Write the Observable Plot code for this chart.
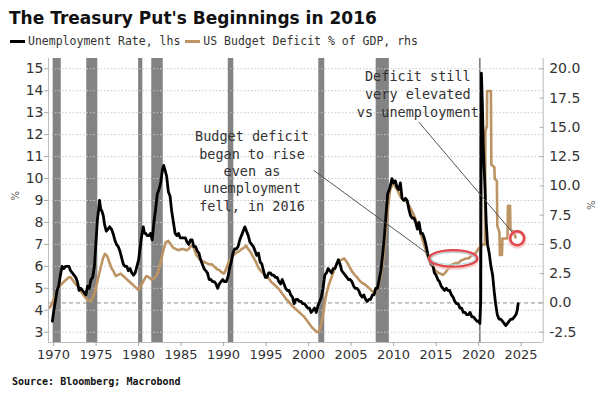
<!DOCTYPE html>
<html>
<head>
<meta charset="utf-8">
<script src="https://cdn.jsdelivr.net/npm/d3@7"></script>
<script src="https://cdn.jsdelivr.net/npm/@observablehq/plot@0.6"></script>
<style>
  body { margin: 0; background: #fff; }
  #wrap { position: relative; width: 604px; height: 393px; overflow: hidden; background: #fff; }
  #title { position: absolute; left: 9px; top: 10px; font: bold 17px/17px "DejaVu Sans", sans-serif; color: #111; white-space: nowrap; }
  #legend { position: absolute; left: 10px; top: 35px; height: 12px; font: 11.5px/12px "DejaVu Sans Mono", monospace; color: #333; white-space: nowrap; display: flex; align-items: center; }
  .sw { display: inline-block; width: 15px; height: 3px; margin-right: 3px; }
  #chart { position: absolute; left: 0; top: 48px; }
  #source { position: absolute; left: 12px; top: 377px; font: bold 10px/10px "DejaVu Sans Mono", monospace; color: #111; white-space: nowrap; }
</style>
</head>
<body>
<div id="wrap">
  <div id="title"></div>
  <div id="legend"></div>
  <div id="chart"></div>
  <div id="source"></div>
</div>
<script>
// ---------- texts ----------
const titleText = "The Treasury Put's Beginnings in 2016";
const seriesNames = ["Unemployment Rate, lhs", "US Budget Deficit % of GDP, rhs"];
const seriesColors = ["#000000", "#bd9463"];
const sourceText = "Source: Bloomberg; Macrobond";
const note1 = "Budget deficit\nbegan to rise\neven as\nunemployment\nfell, in 2016";
const note2 = "Deficit still\nvery elevated\nvs unemployment";

// ---------- ticks ----------
const xTicks = [1970, 1975, 1980, 1985, 1990, 1995, 2000, 2005, 2010, 2015, 2020, 2025];
const leftTicks = [3, 4, 5, 6, 7, 8, 9, 10, 11, 12, 13, 14, 15];
const rightTicks = [-2.5, 0, 2.5, 5, 7.5, 10, 12.5, 15, 17.5, 20];

// ---------- recessions (start, end) ----------
const recStart = [1969.95, 1973.9, 1980.0, 1981.55, 1990.55, 2001.2, 2007.95, 2020.1];
const recEnd   = [1970.9, 1975.2, 1980.5, 1982.9, 1991.2, 2001.9, 2009.5, 2020.3];

// ---------- unemployment rate (%, lhs) ----------
const unempYear = [1969.85,1970.0,1970.2,1970.4,1970.6,1970.8,1971.0,1971.2,1971.4,1971.6,1971.8,1972.0,1972.2,1972.4,1972.6,1972.8,1973.0,1973.2,1973.4,1973.6,1973.8,1974.0,1974.2,1974.4,1974.6,1974.8,1975.0,1975.15,1975.3,1975.4,1975.55,1975.7,1975.85,1976.0,1976.2,1976.4,1976.6,1976.8,1977.0,1977.2,1977.4,1977.6,1977.8,1978.0,1978.2,1978.4,1978.6,1978.8,1979.0,1979.2,1979.4,1979.6,1979.8,1980.0,1980.2,1980.4,1980.55,1980.7,1980.85,1981.0,1981.2,1981.4,1981.6,1981.8,1982.0,1982.2,1982.4,1982.6,1982.8,1982.95,1983.1,1983.3,1983.5,1983.7,1983.9,1984.1,1984.3,1984.5,1984.7,1984.9,1985.1,1985.3,1985.5,1985.7,1985.9,1986.1,1986.3,1986.5,1986.7,1986.9,1987.1,1987.3,1987.5,1987.7,1987.9,1988.1,1988.3,1988.5,1988.7,1988.9,1989.1,1989.3,1989.5,1989.7,1989.9,1990.1,1990.3,1990.5,1990.7,1990.9,1991.1,1991.3,1991.5,1991.7,1991.9,1992.1,1992.3,1992.5,1992.7,1992.9,1993.1,1993.3,1993.5,1993.7,1993.9,1994.1,1994.3,1994.5,1994.7,1994.9,1995.1,1995.3,1995.5,1995.7,1995.9,1996.1,1996.3,1996.5,1996.7,1996.9,1997.1,1997.3,1997.5,1997.7,1997.9,1998.1,1998.3,1998.5,1998.7,1998.9,1999.1,1999.3,1999.5,1999.7,1999.9,2000.1,2000.3,2000.5,2000.7,2000.9,2001.1,2001.3,2001.5,2001.7,2001.9,2002.1,2002.3,2002.5,2002.7,2002.9,2003.1,2003.3,2003.5,2003.7,2003.9,2004.1,2004.3,2004.5,2004.7,2004.9,2005.1,2005.3,2005.5,2005.7,2005.9,2006.1,2006.3,2006.5,2006.7,2006.9,2007.1,2007.3,2007.5,2007.7,2007.9,2008.1,2008.3,2008.5,2008.7,2008.9,2009.1,2009.3,2009.5,2009.7,2009.8,2010.0,2010.2,2010.4,2010.6,2010.8,2011.0,2011.2,2011.4,2011.6,2011.8,2012.0,2012.2,2012.4,2012.6,2012.8,2013.0,2013.2,2013.4,2013.6,2013.8,2014.0,2014.2,2014.4,2014.6,2014.8,2015.0,2015.2,2015.4,2015.6,2015.8,2016.0,2016.2,2016.4,2016.6,2016.8,2017.0,2017.2,2017.4,2017.6,2017.8,2018.0,2018.2,2018.4,2018.6,2018.8,2019.0,2019.2,2019.4,2019.6,2019.8,2020.0,2020.15,2020.25,2020.33,2020.45,2020.55,2020.65,2020.75,2020.9,2021.05,2021.25,2021.45,2021.65,2021.85,2022.0,2022.2,2022.4,2022.6,2022.8,2023.0,2023.2,2023.4,2023.6,2023.8,2024.0,2024.2,2024.4,2024.55,2024.65];
const unempRate = [3.5,3.9,4.4,4.9,5.1,5.6,6.0,5.9,6.0,6.0,6.0,5.8,5.7,5.6,5.5,5.3,4.9,5.0,4.9,4.8,4.7,5.1,5.0,5.4,5.5,6.0,7.2,8.1,8.6,9.0,8.6,8.5,8.3,7.9,7.6,7.7,7.8,7.7,7.5,7.2,7.0,6.9,6.7,6.4,6.1,6.0,6.0,5.8,5.9,5.7,5.6,5.7,6.0,6.3,6.9,7.5,7.8,7.5,7.5,7.4,7.4,7.5,7.2,8.0,8.6,9.3,9.5,9.8,10.4,10.6,10.4,10.1,9.4,9.2,8.5,8.0,7.5,7.4,7.5,7.3,7.3,7.3,7.3,7.1,7.0,7.2,7.2,6.9,6.9,6.7,6.6,6.3,6.1,5.9,5.8,5.7,5.4,5.4,5.3,5.3,5.2,5.0,5.2,5.3,5.4,5.3,5.3,5.5,5.9,6.2,6.6,6.8,6.8,6.9,7.2,7.4,7.6,7.8,7.6,7.4,7.1,7.0,6.9,6.7,6.5,6.6,6.2,6.1,5.8,5.5,5.5,5.7,5.7,5.6,5.6,5.5,5.5,5.3,5.2,5.4,5.2,5.0,4.9,4.9,4.7,4.6,4.3,4.5,4.5,4.4,4.4,4.3,4.3,4.2,4.1,4.1,3.9,4.0,4.1,3.9,4.2,4.4,4.6,5.0,5.6,5.7,5.9,5.8,5.7,5.9,5.9,6.1,6.3,6.1,5.8,5.7,5.6,5.5,5.4,5.4,5.3,5.1,5.0,5.0,4.9,4.7,4.6,4.7,4.5,4.4,4.5,4.5,4.7,4.7,5.0,5.0,5.4,5.8,6.5,7.3,8.3,9.3,9.5,9.8,10.0,9.8,9.9,9.6,9.5,9.8,9.1,9.0,9.1,9.0,8.6,8.3,8.2,8.2,8.0,7.7,8.0,7.5,7.5,7.3,7.0,6.6,6.3,6.1,6.1,5.7,5.6,5.4,5.3,5.1,5.0,4.9,5.0,4.9,4.9,4.7,4.6,4.4,4.3,4.3,4.1,4.1,3.9,3.9,3.8,3.8,3.9,3.7,3.7,3.6,3.5,3.5,3.4,4.4,14.8,13.3,11.5,10.5,9.6,8.0,7.0,6.6,6.0,5.6,4.8,4.3,3.8,3.6,3.6,3.5,3.4,3.3,3.4,3.5,3.6,3.6,3.7,3.8,4.0,4.3];

// ---------- budget deficit (% of GDP, rhs) ----------
const defYear = [1969.55,1969.8,1970.0,1970.3,1970.6,1970.9,1971.2,1971.5,1971.8,1972.0,1972.3,1972.6,1972.9,1973.2,1973.5,1973.8,1974.1,1974.4,1974.7,1974.95,1975.2,1975.5,1975.8,1976.05,1976.3,1976.55,1976.8,1977.05,1977.3,1977.6,1977.9,1978.2,1978.5,1978.8,1979.1,1979.4,1979.7,1980.0,1980.3,1980.6,1980.9,1981.2,1981.5,1981.8,1982.1,1982.4,1982.7,1982.95,1983.2,1983.5,1983.8,1984.1,1984.4,1984.7,1985.0,1985.3,1985.6,1985.9,1986.2,1986.5,1986.8,1987.1,1987.4,1987.7,1988.0,1988.3,1988.6,1988.9,1989.2,1989.5,1989.8,1990.05,1990.3,1990.6,1990.9,1991.2,1991.5,1991.8,1992.1,1992.4,1992.65,1992.9,1993.2,1993.5,1993.8,1994.1,1994.4,1994.7,1995.0,1995.3,1995.6,1995.9,1996.2,1996.5,1996.8,1997.1,1997.4,1997.7,1998.0,1998.3,1998.6,1998.9,1999.2,1999.5,1999.8,2000.1,2000.4,2000.7,2001.0,2001.25,2001.5,2001.7,2001.9,2002.1,2002.4,2002.7,2003.0,2003.3,2003.6,2003.9,2004.2,2004.5,2004.8,2005.1,2005.4,2005.7,2006.0,2006.3,2006.6,2006.9,2007.2,2007.5,2007.8,2008.0,2008.25,2008.5,2008.75,2009.0,2009.2,2009.4,2009.6,2009.85,2010.0,2010.2,2010.4,2010.6,2010.8,2011.0,2011.3,2011.6,2011.9,2012.2,2012.5,2012.8,2013.1,2013.4,2013.7,2014.0,2014.3,2014.6,2014.9,2015.2,2015.5,2015.8,2016.1,2016.4,2016.7,2017.0,2017.3,2017.6,2017.9,2018.2,2018.5,2018.8,2019.1,2019.4,2019.7,2019.95,2020.2,2020.5,2020.75,2020.8,2020.9,2020.98,2021.0,2021.45,2021.5,2021.85,2021.9,2022.15,2022.2,2022.45,2022.5,2022.75,2022.8,2023.4,2023.45,2023.7,2023.75,2024.15,2024.35];
const defPct = [-0.4,-0.1,0.3,0.8,1.3,1.6,1.8,2.0,2.2,2.2,1.9,1.6,1.4,1.0,0.7,0.4,0.2,0.15,0.6,1.2,2.0,2.9,3.8,4.2,4.0,3.5,3.0,2.7,2.3,2.4,2.5,2.3,2.1,1.9,1.7,1.5,1.3,1.1,1.5,1.9,2.3,2.2,2.0,2.1,2.3,2.9,3.8,4.6,5.2,5.3,5.0,4.7,4.6,4.5,4.6,4.6,4.5,4.6,4.9,4.7,4.1,3.8,3.6,3.5,3.4,3.3,3.3,3.1,2.9,2.8,2.6,2.5,2.9,3.5,3.8,4.1,4.3,4.4,4.6,4.7,4.9,4.6,4.3,3.9,3.5,3.0,2.7,2.5,2.3,2.1,1.8,1.6,1.4,1.2,0.9,0.6,0.3,0.1,-0.2,-0.4,-0.6,-0.8,-1.0,-1.2,-1.5,-1.8,-2.1,-2.3,-2.5,-2.4,-1.8,-1.0,0.0,0.8,1.6,2.2,2.8,3.4,3.6,3.7,3.8,3.5,3.1,2.7,2.4,2.2,1.9,1.7,1.6,1.4,1.2,1.0,0.9,1.1,1.6,2.3,3.6,5.4,7.0,8.5,9.7,10.1,10.2,9.9,9.7,9.4,9.1,8.9,8.8,8.6,8.2,7.8,7.3,6.7,6.2,5.4,4.7,4.0,3.5,3.1,2.8,2.6,2.5,2.4,2.6,2.9,3.2,3.3,3.4,3.4,3.6,3.7,3.8,3.8,4.0,4.1,4.3,4.6,4.8,5.0,5.0,14.6,15.0,15.0,18.1,18.1,11.8,11.6,10.6,10.4,6.6,6.0,4.1,4.1,5.5,5.5,8.3,8.3,6.3,6.0,5.6];

// ---------- annotation anchors (x: year, y: lhs units) ----------
const note1At = [1993.34, 10.37];
const note2At = [2012.85, 13.9];
const link1 = [2000.6, 10.37, 2014.46, 6.45];
const link2 = [2012.97, 12.57, 2023.95, 7.56];
const circleAt = [2024.54, 7.28];
const ellipseX = [2014.26, 2019.9];
const ellipseY = [5.96, 6.72];

// ---------- layout ----------
const xDomain = [1969.4, 2027.6];
const yDomain = [2.531, 15.469];
const toL = r => 3 + (r + 2.5) * 12 / 22.5;      // rhs value -> lhs units
const fromL = L => (L - 3) * 22.5 / 12 - 2.5;
const fmtR = L => { const v = Math.round(fromL(L) * 10) / 10; return (Math.abs(v) < 1e-9 ? 0 : v).toFixed(1); };

const unemp = unempYear.map((x, i) => ({x, v: unempRate[i]}));
const deficit = defYear.map((x, i) => ({x, v: defPct[i]}));
const recessions = recStart.map((s, i) => ({s, e: recEnd[i]}));

// header / footer
document.getElementById("title").textContent = titleText;
const lg = document.getElementById("legend");
seriesNames.forEach((n, i) => {
  const sw = document.createElement("span");
  sw.className = "sw"; sw.style.background = seriesColors[i];
  if (i > 0) sw.style.marginLeft = "5px";
  const t = document.createElement("span"); t.textContent = n;
  lg.appendChild(sw); lg.appendChild(t);
});
document.getElementById("source").textContent = sourceText;

function ellipseMark(index, scales) {
  const cx = (scales.x(ellipseX[0]) + scales.x(ellipseX[1])) / 2;
  const cy = (scales.y(ellipseY[0]) + scales.y(ellipseY[1])) / 2;
  const rx = Math.abs(scales.x(ellipseX[1]) - scales.x(ellipseX[0])) / 2;
  const ry = Math.abs(scales.y(ellipseY[1]) - scales.y(ellipseY[0])) / 2;
  const g = d3.create("svg:g");
  g.append("ellipse").attr("cx", cx).attr("cy", cy + 1).attr("rx", rx).attr("ry", ry)
    .attr("fill", "none").attr("stroke", "#f2b8b8").attr("stroke-width", 4).attr("opacity", 0.7);
  g.append("ellipse").attr("cx", cx).attr("cy", cy).attr("rx", rx - 2.2).attr("ry", ry - 2.2)
    .attr("fill", "none").attr("stroke", "#9fd6dc").attr("stroke-width", 1.2).attr("opacity", 0.8);
  g.append("ellipse").attr("cx", cx).attr("cy", cy).attr("rx", rx).attr("ry", ry)
    .attr("fill", "none").attr("stroke", "#e0454a").attr("stroke-width", 2.2);
  return g.node();
}

const monoFont = "DejaVu Sans Mono";
const chart = Plot.plot({
  width: 604,
  height: 325,
  marginTop: 10,
  marginBottom: 31,
  marginLeft: 48,
  marginRight: 61.3,
  x: {domain: xDomain, label: null},
  y: {domain: yDomain, label: null},
  style: {fontFamily: "DejaVu Sans", fontSize: "13px", color: "#333", background: "transparent", overflow: "visible"},
  marks: [
    // recession bars
    Plot.rect(recessions, {x1: "s", x2: "e", y1: yDomain[0], y2: yDomain[1], fill: "#838383"}),
    // grid
    Plot.ruleY(leftTicks, {stroke: "#c9c9c9", strokeDasharray: "1.5,2"}),
    Plot.ruleY([toL(0)], {stroke: "#8c8c8c", strokeDasharray: "4,3"}),
    // frame lines
    Plot.ruleX(xDomain, {stroke: "#bdbdbd"}),
    Plot.ruleY([yDomain[0]], {stroke: "#bdbdbd"}),
    // series
    Plot.line(deficit, {x: "x", y: d => toL(d.v), stroke: seriesColors[1], strokeWidth: 2.6, strokeLinejoin: "round"}),
    Plot.line(unemp, {x: "x", y: "v", stroke: seriesColors[0], strokeWidth: 2.8, strokeLinejoin: "round"}),
    // annotations
    Plot.link([link1, link2], {x1: d => d[0], y1: d => d[1], x2: d => d[2], y2: d => d[3], stroke: "#555", strokeWidth: 1}),
    ellipseMark,
    Plot.dot([circleAt], {x: d => d[0], y: d => d[1], r: 7.5, stroke: "#f2b8b8", strokeWidth: 4, dy: 1, opacity: 0.7}),
    Plot.dot([circleAt], {x: d => d[0], y: d => d[1], r: 7, stroke: "#e0454a", strokeWidth: 2.4}),
    Plot.text([note1], {x: () => note1At[0], y: () => note1At[1], text: d => d, fontFamily: monoFont, fontSize: 13.5, lineHeight: 1.28, fill: "#333"}),
    Plot.text([note2], {x: () => note2At[0], y: () => note2At[1], text: d => d, fontFamily: monoFont, fontSize: 13.5, lineHeight: 1.33, fill: "#333"}),
    // axes
    Plot.axisX(xTicks, {tickFormat: d => String(d), tickSize: 4, tickPadding: 3, stroke: "#aaa", fill: "#333", fontSize: 13, label: null}),
    Plot.axisY(leftTicks, {anchor: "left", tickSize: 4, tickPadding: 1, stroke: "#aaa", fill: "#333", fontSize: 14, label: null}),
    Plot.axisY(rightTicks.map(toL), {anchor: "right", tickSize: -4, tickPadding: 10, stroke: "#aaa", fill: "#333", fontSize: 14, label: null, tickFormat: fmtR}),
    Plot.text(["%"], {frameAnchor: "left", dx: -33, rotate: -90, text: d => d, fontSize: 10, fill: "#555"}),
    Plot.text(["%"], {frameAnchor: "right", dx: 49, rotate: -90, text: d => d, fontSize: 10, fill: "#555"})
  ]
});
document.getElementById("chart").appendChild(chart);
</script>
</body>
</html>
